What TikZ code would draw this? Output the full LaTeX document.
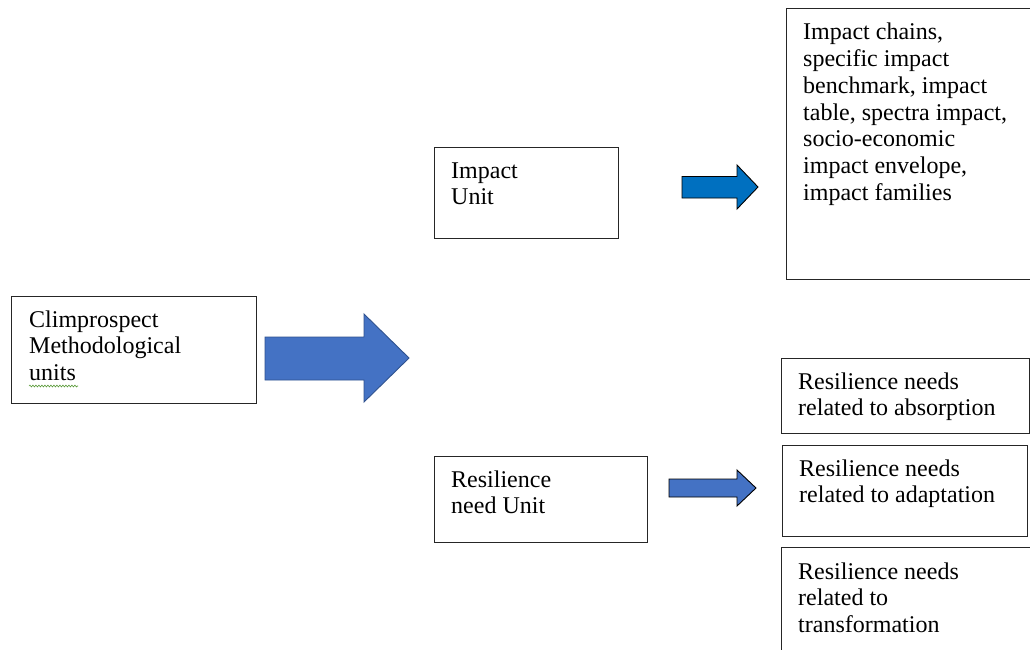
\documentclass[tikz,border=0pt]{standalone}
\usepackage{fontspec}
\setmainfont{Liberation Serif}
\usetikzlibrary{decorations.pathmorphing}
\definecolor{boxline}{HTML}{262626}
\definecolor{bigblue}{HTML}{4472C4}
\definecolor{bigedge}{HTML}{2F528F}
\definecolor{impblue}{HTML}{0070C0}
\definecolor{spellgreen}{HTML}{5B9B3A}
\tikzset{
  boxnode/.style={draw=boxline, line width=0.9pt, rectangle, inner sep=0pt},
  txt/.style={anchor=north west, inner sep=0pt, align=left, text=black,
    font=\fontsize{24}{26.8}\selectfont},
  blockarrow/.style={line width=0.9pt, line join=miter},
}
\begin{document}
\begin{tikzpicture}[x=1pt,y=-1pt]
\useasboundingbox (0,0) rectangle (1030,649);
\clip (0,0) rectangle (1030,649);
\fill[white] (0,0) rectangle (1030,649);

% boxes
\draw[boxnode] (11,296) rectangle (256,403);
\draw[boxnode] (434,147) rectangle (618,238);
\draw[boxnode] (434,456) rectangle (647,542);
\draw[boxnode] (786,8) rectangle (1036,279);
\draw[boxnode] (781,358) rectangle (1029,433);
\draw[boxnode] (782,445) rectangle (1027,536);
\draw[boxnode] (781,547) rectangle (1036,656);

% texts
\node[txt] (tleft) at (29,308.2) {\strut Climprospect\\Methodological\\units};
\node[txt] (timp) at (451,159.2) {\strut Impact\\Unit};
\node[txt] (tres) at (451,468.2) {\strut Resilience\\need Unit};
\node[txt] (tbig) at (803,20.7) {\strut Impact chains,\\specific impact\\benchmark, impact\\table, spectra impact,\\socio-economic\\impact envelope,\\impact families};
\node[txt] (tabs) at (798,370.2) {\strut Resilience needs\\related to absorption};
\node[txt] (tadp) at (799,457.2) {\strut Resilience needs\\related to adaptation};
\node[txt] (ttrf) at (798,560.2) {\strut Resilience needs\\related to\\transformation};

% spell-check squiggle under "units"
\draw[spellgreen, line width=0.6pt, decorate,
  decoration={snake, amplitude=0.9pt, segment length=3pt}] (29,386) -- (78,386);

% big arrow
\draw[blockarrow, fill=bigblue, draw=bigedge]
  (265,337) -- (364,337) -- (364,314) -- (409,358) -- (364,402) -- (364,380) -- (265,380) -- cycle;
% impact arrow
\draw[blockarrow, fill=impblue, draw=black]
  (682,176.5) -- (737,176.5) -- (737,165) -- (758,187) -- (737,209) -- (737,198) -- (682,198) -- cycle;
% resilience arrow
\draw[blockarrow, fill=bigblue, draw=black]
  (669,479) -- (737,479) -- (737,470) -- (756,488) -- (737,506) -- (737,497) -- (669,497) -- cycle;
\end{tikzpicture}
\end{document}
